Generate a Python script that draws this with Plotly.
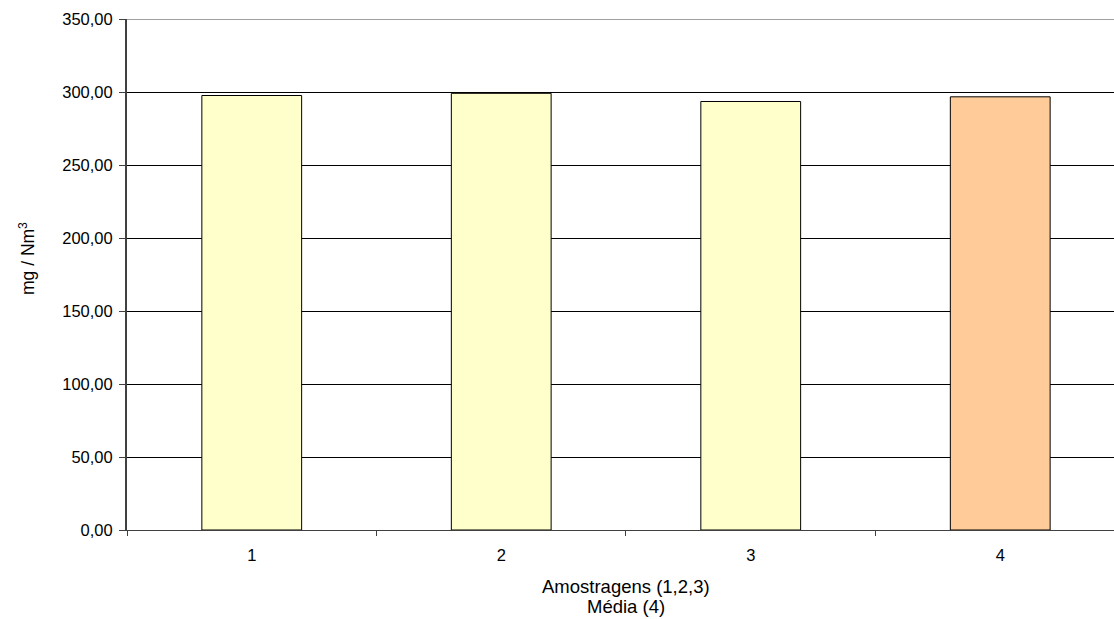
import plotly.graph_objects as go

# Emission concentration per sampling run, plus the average of the three runs
categories = [1, 2, 3, 4]
values = [297.6, 299.1, 293.5, 296.7]
bar_colors = ["#FFFFCC", "#FFFFCC", "#FFFFCC", "#FFCC99"]
y_ticks = [0, 50, 100, 150, 200, 250, 300, 350]

PLOT_LEFT, PLOT_WIDTH = 127, 987
PLOT_BOTTOM, PLOT_HEIGHT = 530, 511

fig = go.Figure()
fig.add_trace(go.Bar(
    x=categories,
    y=values,
    width=0.4,
    marker=dict(color=bar_colors, line=dict(color="#000000", width=1)),
    showlegend=False,
    hoverinfo="x+y",
))

fig.update_layout(
    width=1114,
    height=619,
    margin=dict(l=PLOT_LEFT, r=0, t=19, b=89),
    paper_bgcolor="white",
    plot_bgcolor="white",
    separators=",.",
    font=dict(family="Liberation Sans, Arial, sans-serif", size=16.5, color="#000000"),
)

fig.update_xaxes(
    range=[0.5, 4.456],
    tickvals=categories,
    ticktext=[str(c) for c in categories],
    ticks="",
    ticklabelstandoff=10,
    showgrid=False,
    showline=True,
    linecolor="#404040",
    linewidth=1,
    zeroline=False,
    tickfont=dict(size=16.5),
    minor=dict(tick0=0.5, dtick=1, ticks="outside", ticklen=5, tickcolor="#404040", showgrid=False),
)

fig.update_yaxes(
    range=[0, 350],
    tickvals=y_ticks,
    tickformat=".2f",
    ticks="outside",
    ticklen=6,
    tickcolor="#404040",
    ticklabelstandoff=3,
    showgrid=True,
    gridcolor="#000000",
    gridwidth=1,
    showline=True,
    linecolor="#404040",
    linewidth=2,
    zeroline=False,
    tickfont=dict(size=16.5),
)

# Upper frame line of the plot area
fig.add_shape(type="line", xref="paper", yref="y", x0=0, x1=1, y0=350, y1=350,
              line=dict(color="#A0A0A0", width=2), layer="above")


def px_x(px):
    return (px - PLOT_LEFT) / PLOT_WIDTH


def px_y(py):
    return (PLOT_BOTTOM - py) / PLOT_HEIGHT


# Axis titles
fig.add_annotation(
    text="mg / Nm<sup>3</sup>", textangle=-90,
    xref="paper", yref="paper", x=px_x(27), y=px_y(259),
    xanchor="center", yanchor="middle", showarrow=False,
    font=dict(size=17.5),
)
fig.add_annotation(
    text="Amostragens (1,2,3)",
    xref="paper", yref="paper", x=px_x(626), y=px_y(586),
    xanchor="center", yanchor="middle", showarrow=False,
    font=dict(size=18.5),
)
fig.add_annotation(
    text="Média (4)",
    xref="paper", yref="paper", x=px_x(626), y=px_y(606),
    xanchor="center", yanchor="middle", showarrow=False,
    font=dict(size=18.5),
)

fig.write_html("out.html")
